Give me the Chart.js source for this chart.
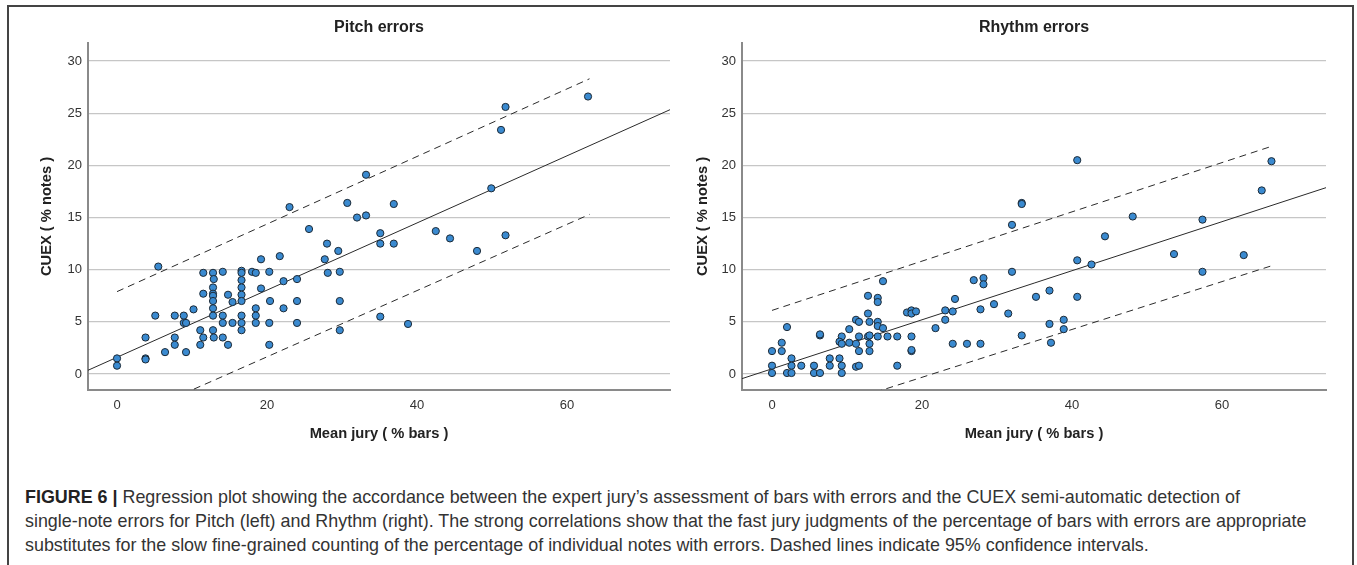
<!DOCTYPE html>
<html>
<head>
<meta charset="utf-8">
<script src="https://cdn.jsdelivr.net/npm/chart.js@4"></script>
<style>
  body { margin: 0; background: #fff; width: 1357px; height: 565px; overflow: hidden; position: relative; font-family: "Liberation Sans", Arial, sans-serif; }
  #frame { position: absolute; left: 7px; top: 5px; width: 1343px; height: 600px; border: 2px solid #444; }
  canvas { position: absolute; top: 0; }
  #pitch-chart { left: 0; }
  #rhythm-chart { left: 680px; }
  #caption { position: absolute; left: 25px; top: 485px; font-size: 17.9px; line-height: 24px; color: #333; white-space: nowrap; }
  #caption b { color: #222; }
</style>
</head>
<body>
<div id="frame"></div>
<canvas id="pitch-chart" width="690" height="460"></canvas>
<canvas id="rhythm-chart" width="677" height="460"></canvas>
<div id="caption"><b>FIGURE 6 |</b> Regression plot showing the accordance between the expert jury’s assessment of bars with errors and the CUEX semi-automatic detection of<br>single-note errors for Pitch (left) and Rhythm (right). The strong correlations show that the fast jury judgments of the percentage of bars with errors are appropriate<br>substitutes for the slow fine-grained counting of the percentage of individual notes with errors. Dashed lines indicate 95% confidence intervals.</div>
<script>
// tick labels
const yTicks = [0, 5, 10, 15, 20, 25, 30];
const xTicks = [0, 20, 40, 60];

// Pitch errors: mean jury (% bars) vs CUEX (% notes)
const pitchX = [23.0, 25.6, 5.5, 28.0, 29.5, 19.2, 21.7, 27.7, 11.5, 12.8, 14.1, 16.6, 16.6, 18.0, 18.5, 20.3, 28.1, 29.7,
  12.9, 16.6, 22.2, 24.0, 12.8, 16.6, 19.2, 11.5, 12.8, 12.8, 14.8, 16.6, 12.8, 15.4, 16.6, 20.4, 24.0, 29.7,
  10.2, 12.8, 18.5, 22.2, 5.1, 7.7, 8.9, 12.8, 14.1, 16.6, 18.5, 8.9, 9.2, 14.1, 15.4, 16.6, 18.5, 20.3, 24.0,
  29.7, 11.1, 12.8, 16.6, 3.8, 7.7, 11.5, 12.9, 14.1, 7.7, 11.1, 14.8, 20.3, 6.4, 9.2, 0.0, 0.0, 3.8, 3.8,
  62.8, 51.8, 51.2, 33.2, 30.7, 36.9, 32.0, 33.2, 49.9, 35.1, 35.1, 36.9, 42.5, 44.4, 51.8, 48.0, 35.1, 38.8];
const pitchY = [16.0, 13.9, 10.3, 12.5, 11.8, 11.0, 11.3, 11.0, 9.7, 9.7, 9.8, 9.9, 9.7, 9.8, 9.7, 9.8, 9.7, 9.8,
  9.1, 9.0, 8.9, 9.1, 8.3, 8.3, 8.2, 7.7, 7.7, 7.5, 7.6, 7.6, 7.0, 6.9, 7.0, 7.0, 7.0, 7.0,
  6.2, 6.3, 6.3, 6.3, 5.6, 5.6, 5.6, 5.6, 5.6, 5.6, 5.6, 4.9, 4.9, 4.9, 4.9, 4.9, 4.9, 4.9, 4.9,
  4.2, 4.2, 4.2, 4.2, 3.5, 3.5, 3.5, 3.5, 3.5, 2.8, 2.8, 2.8, 2.8, 2.1, 2.1, 1.5, 0.8, 1.5, 1.4,
  26.6, 25.6, 23.4, 19.1, 16.4, 16.3, 15.0, 15.2, 17.8, 13.5, 12.5, 12.5, 13.7, 13.0, 13.3, 11.8, 5.5, 4.8];
const pitchFitX = [-3.9, 73.8];
const pitchFitY = [0.35, 25.36];
const pitchBandX = [0, 63];
const pitchUpperY = [7.9, 28.3];
const pitchLowerY = [-4.7, 15.3];

// Rhythm errors
const rhythmX = [14.8, 12.8, 14.1, 14.1, 24.4, 18.0, 18.6, 18.6, 19.2, 23.1, 24.1, 12.8, 11.2, 11.6, 13.0, 14.1, 14.1, 14.8,
  23.1, 21.8, 2.0, 10.3, 6.4, 6.4, 9.3, 11.6, 12.8, 13.0, 14.1, 15.4, 16.7, 18.6, 9.0, 9.3, 10.3, 11.2, 13.0,
  24.1, 26.0, 1.3, 0.0, 1.3, 11.6, 13.0, 18.6, 18.6, 2.6, 7.7, 9.0, 0.0, 2.6, 3.9, 5.6, 7.7, 9.3, 11.2, 11.6,
  16.7, 0.0, 2.0, 2.6, 5.6, 6.4, 9.3,
  40.7, 66.6, 65.3, 33.3, 33.3, 48.1, 57.4, 32.0, 44.4, 53.6, 62.9, 40.7, 42.6, 57.4, 32.0, 26.9, 28.2, 28.2,
  27.8, 29.6, 31.5, 35.2, 37.0, 40.7, 33.3, 37.0, 38.9, 38.9, 37.2, 27.8];
const rhythmY = [8.9, 7.5, 7.3, 6.9, 7.2, 5.9, 6.1, 5.8, 6.0, 6.1, 6.0, 5.8, 5.2, 5.0, 5.0, 5.0, 4.6, 4.4,
  5.2, 4.4, 4.5, 4.3, 3.7, 3.8, 3.6, 3.6, 3.6, 3.7, 3.6, 3.6, 3.6, 3.6, 3.1, 2.9, 3.0, 2.9, 2.9,
  2.9, 2.9, 3.0, 2.2, 2.2, 2.2, 2.2, 2.2, 2.3, 1.5, 1.5, 1.5, 0.8, 0.8, 0.8, 0.8, 0.8, 0.8, 0.7, 0.8,
  0.8, 0.1, 0.1, 0.1, 0.1, 0.1, 0.1,
  20.5, 20.4, 17.6, 16.4, 16.3, 15.1, 14.8, 14.3, 13.2, 11.5, 11.4, 10.9, 10.5, 9.8, 9.8, 9.0, 9.2, 8.6,
  6.2, 6.7, 5.8, 7.4, 8.0, 7.4, 3.7, 4.8, 5.2, 4.3, 3.0, 2.9];
const rhythmFitX = [-4.0, 73.9];
const rhythmFitY = [-0.44, 17.87];
const rhythmBandX = [0, 66.5];
const rhythmUpperY = [6.1, 21.8];
const rhythmLowerY = [-4.9, 10.35];

const FONT = "'Liberation Sans', Arial, sans-serif";

function pairs(xs, ys) {
    return xs.map((x, i) => ({ x: x, y: ys[i] }));
}

function lineSet(xs, ys, dashed) {
    return {
        type: 'line',
        data: pairs(xs, ys),
        showLine: true,
        pointRadius: 0,
        borderColor: '#2a2a2a',
        borderWidth: 1,
        borderDash: dashed ? [7, 5] : [],
        fill: false
    };
}

function makeChart(canvasId, title, xs, ys, fitX, fitY, bandX, upY, loY, opts) {
    const ctx = document.getElementById(canvasId);
    return new Chart(ctx, {
        type: 'scatter',
        data: {
            datasets: [
                {
                    data: pairs(xs, ys),
                    pointRadius: 3.6,
                    backgroundColor: '#3a8ad0',
                    borderColor: '#1d2a36',
                    borderWidth: 1
                },
                lineSet(fitX, fitY, false),
                lineSet(bandX, upY, true),
                lineSet(bandX, loY, true)
            ]
        },
        options: {
            responsive: false,
            animation: false,
            devicePixelRatio: 1,
            layout: { padding: { left: 0, right: opts.padRight, top: 0, bottom: 0 } },
            plugins: {
                legend: { display: false },
                tooltip: { enabled: false },
                title: {
                    display: true,
                    text: title,
                    fullSize: false,
                    color: '#222',
                    font: { family: FONT, size: 16, weight: 'bold' },
                    padding: { top: 18.4, bottom: 5.4 }
                }
            },
            scales: {
                x: {
                    type: 'linear',
                    min: opts.xMin,
                    max: opts.xMax,
                    afterBuildTicks: (s) => { s.ticks = xTicks.map(v => ({ value: v })); },
                    afterFit: (s) => { s.height = 70; },
                    grid: { display: false, drawTicks: false },
                    border: { display: true, color: '#8a8a8a', width: 2 },
                    ticks: { padding: 8, color: '#333', font: { family: FONT, size: 13 } },
                    title: {
                        display: true,
                        text: 'Mean jury ( % bars )',
                        color: '#222',
                        font: { family: FONT, size: 14.7, weight: 'bold' },
                        padding: { top: 0, bottom: 17.2 }
                    }
                },
                y: {
                    type: 'linear',
                    min: -1.53,
                    max: 31.73,
                    afterBuildTicks: (s) => { s.ticks = yTicks.map(v => ({ value: v })); },
                    afterFit: (s) => { s.width = opts.yWidth; },
                    grid: { color: '#c6c6c6', lineWidth: 1.3, drawTicks: false },
                    border: { display: true, color: '#8a8a8a', width: 2 },
                    ticks: { padding: 6, color: '#333', font: { family: FONT, size: 13 } },
                    title: {
                        display: true,
                        text: 'CUEX ( % notes )',
                        color: '#222',
                        font: { family: FONT, size: 14.7, weight: 'bold' },
                        padding: { top: opts.yTitlePad, bottom: 0 }
                    }
                }
            }
        }
    });
}

makeChart('pitch-chart', 'Pitch errors', pitchX, pitchY, pitchFitX, pitchFitY, pitchBandX, pitchUpperY, pitchLowerY,
    { xMin: -3.87, xMax: 73.73, yWidth: 88, yTitlePad: 38.2, padRight: 20 });
makeChart('rhythm-chart', 'Rhythm errors', rhythmX, rhythmY, rhythmFitX, rhythmFitY, rhythmBandX, rhythmUpperY, rhythmLowerY,
    { xMin: -4.0, xMax: 73.87, yWidth: 62, yTitlePad: 14.2, padRight: 31 });
</script>
</body>
</html>
